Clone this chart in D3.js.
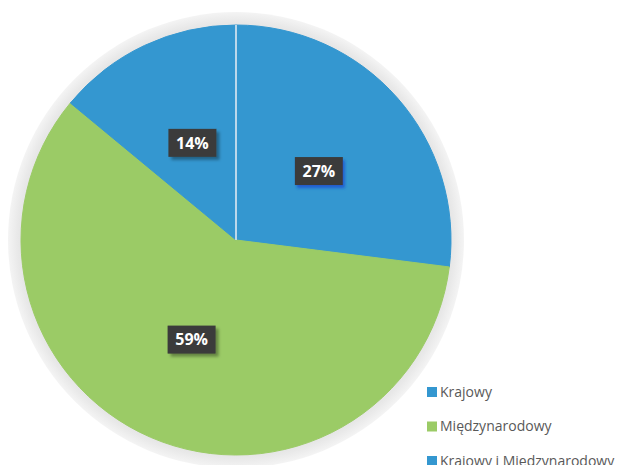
<!DOCTYPE html>
<html>
<head>
<meta charset="utf-8">
<script src="https://cdn.jsdelivr.net/npm/d3@7"></script>
<style>
  body { margin: 0; background: #fff; }
  svg { display: block; font-family: "Open Sans", "Liberation Sans", sans-serif; }
</style>
</head>
<body>
<div id="chart"></div>
<script>
const categories = ["Krajowy", "Międzynarodowy", "Krajowy i Międzynarodowy"];
const values = [27, 59, 14];
const colors = ["#3497d0", "#9bcb66", "#3497d0"];

const width = 643;
const height = 465;
const cx = 236, cy = 240;
const radius = 215;

const svg = d3.select("#chart")
  .append("svg")
  .attr("width", width)
  .attr("height", height);

const defs = svg.append("defs");
const ringGrad = defs.append("radialGradient").attr("id", "ring");
ringGrad.append("stop").attr("offset", "0.9").attr("stop-color", "#dcdcdc");
ringGrad.append("stop").attr("offset", "0.96").attr("stop-color", "#e9e9e9");
ringGrad.append("stop").attr("offset", "1").attr("stop-color", "#f4f4f4");

const shadow = defs.append("filter").attr("id", "shadow")
  .attr("x", "-30%").attr("y", "-30%").attr("width", "160%").attr("height", "160%");
shadow.append("feDropShadow").attr("dx", 3).attr("dy", 3).attr("stdDeviation", 1.5)
  .attr("flood-color", "#000").attr("flood-opacity", 0.35);

const glow = defs.append("filter").attr("id", "glow")
  .attr("x", "-30%").attr("y", "-30%").attr("width", "160%").attr("height", "160%");
glow.append("feDropShadow").attr("dx", 2).attr("dy", 3).attr("stdDeviation", 1.5)
  .attr("flood-color", "#1f4fd0").attr("flood-opacity", 0.8);

// outer grey rim
svg.append("circle")
  .attr("cx", cx).attr("cy", cy)
  .attr("r", radius + 13)
  .attr("fill", "url(#ring)");

const g = svg.append("g").attr("transform", `translate(${cx},${cy})`);

const pie = d3.pie().sort(null).value(d => d.value);
const data = categories.map((c, i) => ({ name: c, value: values[i], color: colors[i] }));
const arcs = pie(data);

const arc = d3.arc().innerRadius(0).outerRadius(radius);

g.selectAll("path.slice")
  .data(arcs)
  .enter()
  .append("path")
  .attr("class", "slice")
  .attr("d", arc)
  .attr("fill", d => d.data.color)
  .attr("stroke", d => d.data.color);

// thin white separator between the two blue slices
const sepAngle = arcs[2].endAngle;
g.append("line")
  .attr("x1", 0).attr("y1", 0)
  .attr("x2", radius * Math.sin(sepAngle))
  .attr("y2", -radius * Math.cos(sepAngle))
  .attr("stroke", "#e8eef4")
  .attr("stroke-width", 1.5);

// data labels
const labelArc = d3.arc().innerRadius(radius * 0.52).outerRadius(radius * 0.52);
const labelOffsets = [[-1, 5], [0, -3], [4, 4]];

const labels = g.selectAll("g.label")
  .data(arcs)
  .enter()
  .append("g")
  .attr("class", "label")
  .attr("transform", (d, i) => {
    const [x, y] = labelArc.centroid(d);
    return `translate(${x + labelOffsets[i][0]},${y + labelOffsets[i][1]})`;
  });

labels.append("rect")
  .attr("x", -24).attr("y", -14)
  .attr("width", 48).attr("height", 28)
  .attr("fill", "#3a3a3a")
  .attr("filter", (d, i) => i === 0 ? "url(#glow)" : "url(#shadow)");

labels.append("text")
  .attr("text-anchor", "middle")
  .attr("dy", "0.36em")
  .attr("fill", "#fff")
  .attr("font-weight", "bold")
  .attr("font-size", "16px")
  .text(d => d.data.value + "%");

// legend
const legend = svg.append("g").attr("transform", "translate(427,392)");
const item = legend.selectAll("g")
  .data(data)
  .enter()
  .append("g")
  .attr("transform", (d, i) => `translate(0,${i * 34.5})`);

item.append("rect")
  .attr("x", 0).attr("y", -5)
  .attr("width", 10).attr("height", 10)
  .attr("fill", d => d.color);

item.append("text")
  .attr("x", 13)
  .attr("dy", "0.35em")
  .attr("font-size", "14px")
  .attr("fill", "#595959")
  .text(d => d.name);
</script>
</body>
</html>
